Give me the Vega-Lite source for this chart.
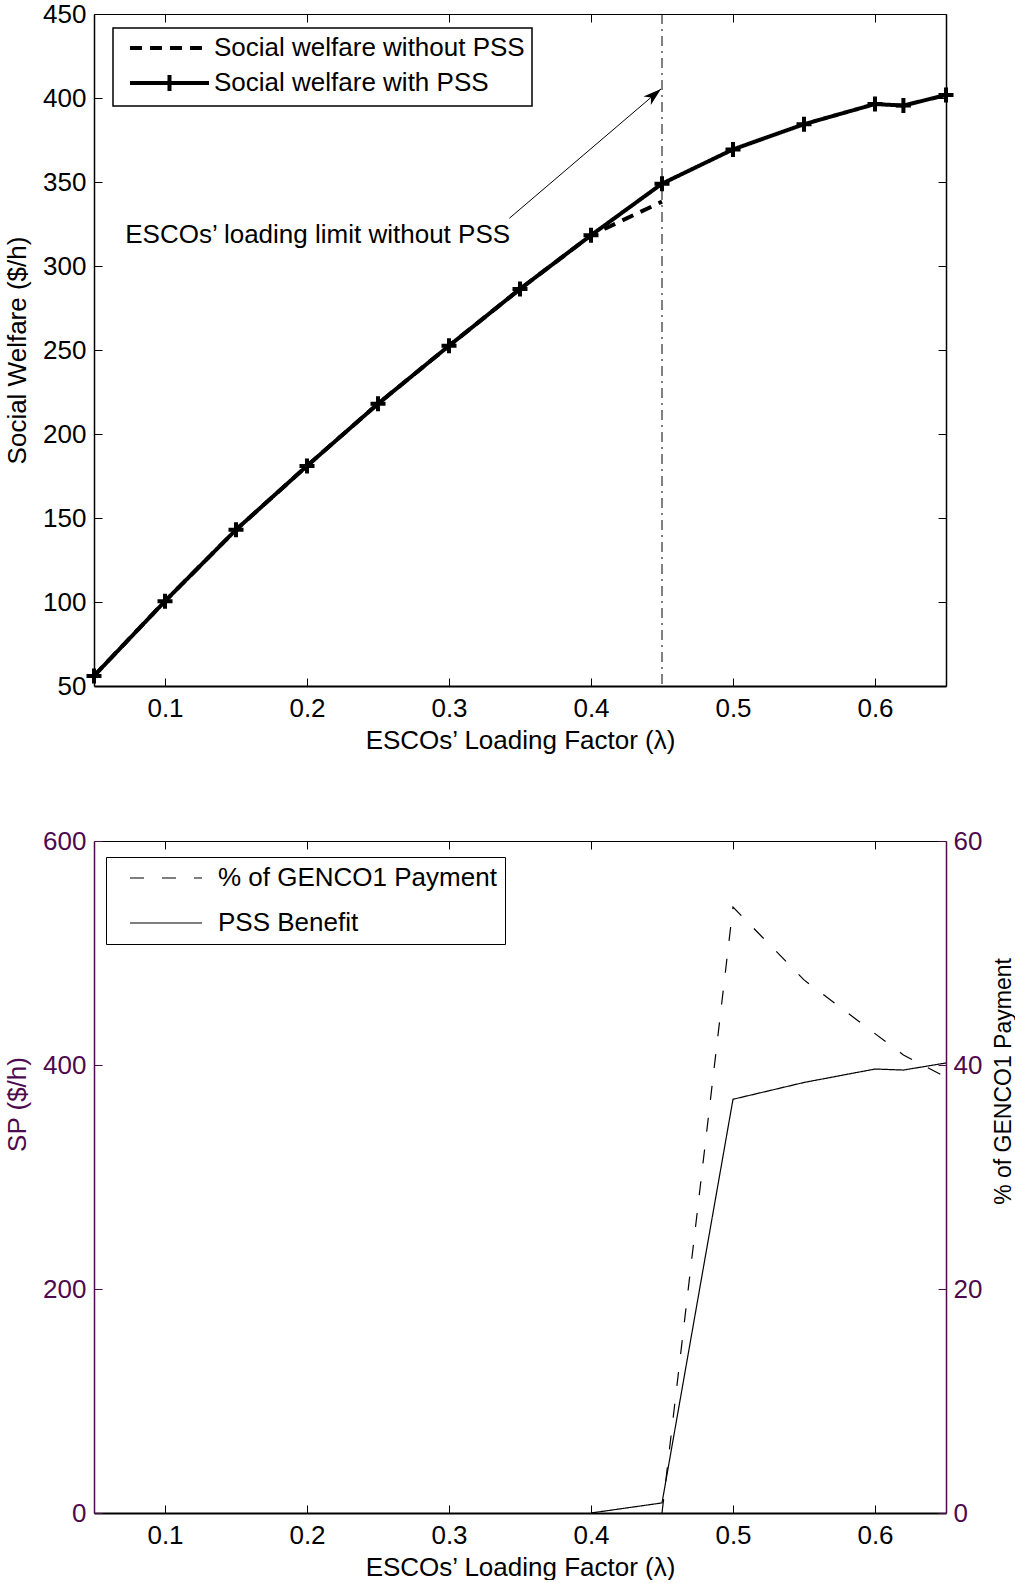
{
  "$schema": "https://vega.github.io/schema/vega-lite/v6.json",
  "padding": {"left": 4, "top": 1, "right": 0, "bottom": 0},
  "background": "white",
  "spacing": 155,
  "bounds": "flush",
  "resolve": {"scale": {"strokeDash": "independent"}, "legend": {"strokeDash": "independent"}},
  "datasets": {
    "sw": [
      {"lambda": 0.05, "welfare": 56.0, "series": "Social welfare without PSS"},
      {"lambda": 0.10, "welfare": 100.5, "series": "Social welfare without PSS"},
      {"lambda": 0.15, "welfare": 143.0, "series": "Social welfare without PSS"},
      {"lambda": 0.20, "welfare": 181.0, "series": "Social welfare without PSS"},
      {"lambda": 0.25, "welfare": 218.0, "series": "Social welfare without PSS"},
      {"lambda": 0.30, "welfare": 252.5, "series": "Social welfare without PSS"},
      {"lambda": 0.35, "welfare": 286.3, "series": "Social welfare without PSS"},
      {"lambda": 0.40, "welfare": 318.3, "series": "Social welfare without PSS"},
      {"lambda": 0.45, "welfare": 338.3, "series": "Social welfare without PSS"},
      {"lambda": 0.05, "welfare": 56.0, "series": "Social welfare with PSS"},
      {"lambda": 0.10, "welfare": 100.5, "series": "Social welfare with PSS"},
      {"lambda": 0.15, "welfare": 143.0, "series": "Social welfare with PSS"},
      {"lambda": 0.20, "welfare": 181.0, "series": "Social welfare with PSS"},
      {"lambda": 0.25, "welfare": 218.0, "series": "Social welfare with PSS"},
      {"lambda": 0.30, "welfare": 252.5, "series": "Social welfare with PSS"},
      {"lambda": 0.35, "welfare": 286.3, "series": "Social welfare with PSS"},
      {"lambda": 0.40, "welfare": 318.3, "series": "Social welfare with PSS"},
      {"lambda": 0.45, "welfare": 349.0, "series": "Social welfare with PSS"},
      {"lambda": 0.50, "welfare": 369.4, "series": "Social welfare with PSS"},
      {"lambda": 0.55, "welfare": 384.4, "series": "Social welfare with PSS"},
      {"lambda": 0.60, "welfare": 396.4, "series": "Social welfare with PSS"},
      {"lambda": 0.62, "welfare": 395.5, "series": "Social welfare with PSS"},
      {"lambda": 0.65, "welfare": 401.8, "series": "Social welfare with PSS"}
    ],
    "benefit": [
      {"lambda": 0.40, "sp": 0, "series2": "PSS Benefit"},
      {"lambda": 0.45, "sp": 9, "series2": "PSS Benefit"},
      {"lambda": 0.50, "sp": 369.4, "series2": "PSS Benefit"},
      {"lambda": 0.55, "sp": 384.4, "series2": "PSS Benefit"},
      {"lambda": 0.60, "sp": 396.4, "series2": "PSS Benefit"},
      {"lambda": 0.62, "sp": 395.5, "series2": "PSS Benefit"},
      {"lambda": 0.65, "sp": 401.8, "series2": "PSS Benefit"}
    ],
    "payment": [
      {"lambda": 0.45, "pct": 0, "series2": "% of GENCO1 Payment"},
      {"lambda": 0.50, "pct": 54.1, "series2": "% of GENCO1 Payment"},
      {"lambda": 0.55, "pct": 47.6, "series2": "% of GENCO1 Payment"},
      {"lambda": 0.60, "pct": 42.8, "series2": "% of GENCO1 Payment"},
      {"lambda": 0.62, "pct": 40.9, "series2": "% of GENCO1 Payment"},
      {"lambda": 0.65, "pct": 38.9, "series2": "% of GENCO1 Payment"}
    ]
  },
  "vconcat": [
    {
      "width": 852,
      "height": 672,
      "layer": [
        {
          "data": {"values": [{"lambda": 0.45}]},
          "mark": {"type": "rule", "color": "black", "strokeWidth": 1, "strokeDash": [10, 5, 2, 5]},
          "encoding": {"x": {"field": "lambda", "type": "quantitative", "axis": null}}
        },
        {
          "data": {"name": "sw"},
          "mark": {"type": "line", "color": "black", "strokeWidth": 4},
          "encoding": {
            "x": {
              "field": "lambda", "type": "quantitative",
              "scale": {"domain": [0.05, 0.65], "nice": false, "zero": false},
              "axis": {"orient": "bottom", "values": [0.1, 0.2, 0.3, 0.4, 0.5, 0.6], "format": ".1f",
                       "title": "ESCOs’ Loading Factor (λ)", "labelPadding": 17, "titleY": 41,
                       "titleBaseline": "top", "domainWidth": 2}
            },
            "y": {
              "field": "welfare", "type": "quantitative",
              "scale": {"domain": [50, 450], "nice": false, "zero": false},
              "axis": {"orient": "left", "values": [50, 100, 150, 200, 250, 300, 350, 400, 450],
                       "title": "Social Welfare ($/h)", "labelPadding": 16, "titleX": -64,
                       "titleBaseline": "bottom"}
            },
            "strokeDash": {
              "field": "series", "type": "nominal",
              "scale": {"domain": ["Social welfare without PSS", "Social welfare with PSS"], "range": [[12, 8], [1, 0]]},
              "legend": {
                "title": null, "orient": "none", "legendX": 19, "legendY": 14, "labelLimit": 0,
                "padding": 7, "rowPadding": 6, "strokeColor": "black", "fillColor": "white",
                "labelFontSize": 26, "labelColor": "black", "symbolSize": 256, "symbolOffset": 36.5, "labelOffset": 31.5,
                "symbolStrokeWidth": 4, "symbolStrokeColor": "black",
                "encode": {
                  "legend": {"update": {"strokeWidth": {"value": 1.5}}},
                  "symbols": {"update": {
                    "shape": {"signal": "datum.value === 'Social welfare with PSS' ? 'M-4.94,0H4.94M0,-1V1' : 'M-4.94,0H4.94'"},
                    "strokeDash": {"signal": "datum.value === 'Social welfare with PSS' ? [1,0] : [16,16]"}
                  }}
                }
              }
            }
          }
        },
        {
          "data": {"name": "sw"},
          "transform": [{"filter": "datum.series === 'Social welfare with PSS'"}],
          "mark": {"type": "point", "shape": "M-1,0H1M0,-1V1", "filled": false, "strokeWidth": 4, "size": 225, "color": "black", "opacity": 1},
          "encoding": {
            "x": {"field": "lambda", "type": "quantitative",
                  "axis": {"orient": "top", "values": [0.1, 0.2, 0.3, 0.4, 0.5, 0.6], "labels": false, "title": null, "domainWidth": 1}},
            "y": {"field": "welfare", "type": "quantitative",
                  "axis": {"orient": "right", "values": [50, 100, 150, 200, 250, 300, 350, 400, 450], "labels": false, "title": null, "domainWidth": 1.5}}
          }
        },
        {
          "data": {"values": [{"lambda": 0.3425, "welfare": 328.4, "lambda2": 0.4493, "welfare2": 405.4}]},
          "mark": {"type": "rule", "color": "black", "strokeWidth": 1},
          "encoding": {
            "x": {"field": "lambda", "type": "quantitative", "axis": null},
            "y": {"field": "welfare", "type": "quantitative", "axis": null},
            "x2": {"field": "lambda2"},
            "y2": {"field": "welfare2"}
          }
        },
        {
          "data": {"values": [{"lambda": 0.4493, "welfare": 405.4}]},
          "mark": {"type": "point", "shape": "M0,0L-0.5,1.6L0,1.15L0.5,1.6Z", "filled": true, "color": "black", "opacity": 1, "size": 520, "angle": 49.5},
          "encoding": {
            "x": {"field": "lambda", "type": "quantitative", "axis": null},
            "y": {"field": "welfare", "type": "quantitative", "axis": null}
          }
        },
        {
          "data": {"values": [{"lambda": 0.343, "welfare": 318.5, "label": "ESCOs’ loading limit without PSS"}]},
          "mark": {"type": "text", "align": "right", "baseline": "middle", "fontSize": 26, "color": "black", "font": "Liberation Sans"},
          "encoding": {
            "x": {"field": "lambda", "type": "quantitative", "axis": null},
            "y": {"field": "welfare", "type": "quantitative", "axis": null},
            "text": {"field": "label"}
          }
        }
      ]
    },
    {
      "width": 852,
      "height": 672,
      "layer": [
        {
          "data": {"name": "benefit"},
          "mark": {"type": "line", "color": "black", "strokeWidth": 1.2},
          "encoding": {
            "x": {
              "field": "lambda", "type": "quantitative",
              "scale": {"domain": [0.05, 0.65], "nice": false, "zero": false},
              "axis": {"orient": "bottom", "values": [0.1, 0.2, 0.3, 0.4, 0.5, 0.6], "format": ".1f",
                       "title": "ESCOs’ Loading Factor (λ)", "labelPadding": 17, "titleY": 41,
                       "titleBaseline": "top", "domainWidth": 2}
            },
            "y": {
              "field": "sp", "type": "quantitative",
              "scale": {"domain": [0, 600], "nice": false, "zero": false},
              "axis": {"orient": "left", "values": [0, 200, 400, 600], "title": "SP ($/h)",
                       "labelPadding": 16, "titleX": -64, "titleY": 263, "titleBaseline": "bottom",
                       "labelColor": "#4d0a4d", "tickColor": "#4d0a4d", "domainColor": "#4d0a4d", "titleColor": "#4d0a4d"}
            },
            "strokeDash": {
              "field": "series2", "type": "nominal",
              "scale": {"domain": ["% of GENCO1 Payment", "PSS Benefit"], "range": [[14, 18], [1, 0]]},
              "legend": {
                "title": null, "orient": "none", "legendX": 12, "legendY": 16, "labelLimit": 0,
                "padding": 8, "rowPadding": 19, "strokeColor": "black", "fillColor": "white",
                "labelFontSize": 26, "labelColor": "black", "symbolSize": 256, "symbolOffset": 39, "labelOffset": 39,
                "symbolStrokeWidth": 1.2, "symbolStrokeColor": "black",
                "encode": {"symbols": {"update": {
                  "shape": {"value": "M-4.5,0H4.5"},
                  "strokeDash": {"signal": "datum.value === 'PSS Benefit' ? [1,0] : [12,20]"}
                }}}
              }
            }
          }
        },
        {
          "data": {"name": "payment"},
          "mark": {"type": "line", "color": "black", "strokeWidth": 1.2},
          "encoding": {
            "x": {"field": "lambda", "type": "quantitative",
                  "axis": {"orient": "top", "values": [0.1, 0.2, 0.3, 0.4, 0.5, 0.6], "labels": false, "title": null, "domainWidth": 1}},
            "y": {
              "field": "pct", "type": "quantitative",
              "scale": {"domain": [0, 60], "nice": false, "zero": false},
              "axis": {"orient": "right", "values": [0, 20, 40, 60], "title": "% of GENCO1 Payment",
                       "labelPadding": 15, "titleX": 69, "titleY": 240, "titleAngle": 270, "titleBaseline": "bottom",
                       "titleFontSize": 23,
                       "labelColor": "#4d0a4d", "tickColor": "#4d0a4d", "domainColor": "#4d0a4d", "titleColor": "black"}
            },
            "strokeDash": {
              "field": "series2", "type": "nominal",
              "scale": {"domain": ["% of GENCO1 Payment", "PSS Benefit"], "range": [[14, 18], [1, 0]]},
              "legend": {
                "title": null, "orient": "none", "legendX": 12, "legendY": 16, "labelLimit": 0,
                "padding": 8, "rowPadding": 19, "strokeColor": "black", "fillColor": "white",
                "labelFontSize": 26, "labelColor": "black", "symbolSize": 256, "symbolOffset": 39, "labelOffset": 39,
                "symbolStrokeWidth": 1.2, "symbolStrokeColor": "black",
                "encode": {"symbols": {"update": {
                  "shape": {"value": "M-4.5,0H4.5"},
                  "strokeDash": {"signal": "datum.value === 'PSS Benefit' ? [1,0] : [12,20]"}
                }}}
              }
            }
          }
        }
      ],
      "resolve": {"scale": {"y": "independent"}}
    }
  ],
  "config": {
    "font": "Liberation Sans",
    "view": {"stroke": null},
    "axis": {
      "grid": false, "labelFontSize": 26, "titleFontSize": 26, "titleFontWeight": "normal",
      "labelColor": "black", "titleColor": "black", "tickColor": "black", "domainColor": "black",
      "tickWidth": 1, "domainWidth": 1.5, "tickSize": -8, "labelFlush": false,
      "labelFont": "Liberation Sans", "titleFont": "Liberation Sans", "labelOverlap": false
    },
    "legend": {"labelFont": "Liberation Sans", "labelFontSize": 26, "labelColor": "black"}
  }
}
